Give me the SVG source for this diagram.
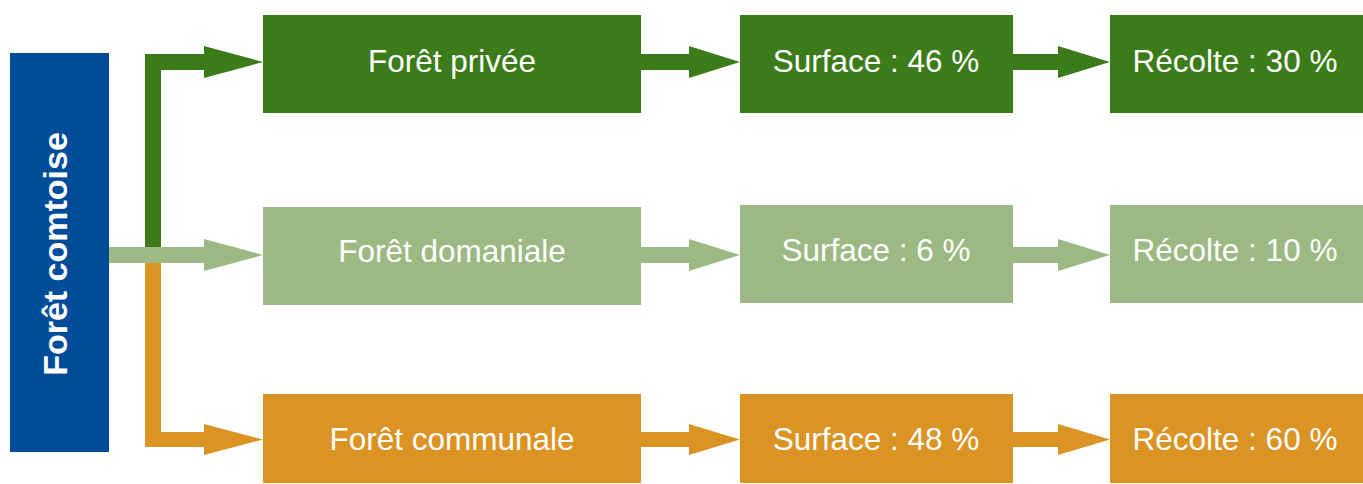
<svg xmlns="http://www.w3.org/2000/svg" width="1363" height="484" viewBox="0 0 1363 484">
<style>
.dg{fill:#3C7B19}
.lg{fill:#9CB983}
.or{fill:#DB9323}
.bl{fill:#004C99}
.t{font-family:"Liberation Sans",Arial,sans-serif;font-size:31.5px;fill:#FFFFFF;text-anchor:middle}
.tb{font-family:"Liberation Sans",Arial,sans-serif;font-size:34px;font-weight:bold;fill:#FFFFFF;text-anchor:middle}
</style>
<rect width="1363" height="484" fill="#FFFFFF"/>
<g id="connectors">
<polygon class="dg" points="145,247 145,54 204,54 204,46 263,62 204,78 204,70 161,70 161,247"/>
<polygon class="or" points="145,263 161,263 161,432 204,432 204,424 263,439.5 204,455 204,447 145,447"/>
<polygon class="lg" points="109,247 204,247 204,239 263,255 204,271 204,263 109,263"/>
<polygon class="dg" points="641,54 689,54 689,46 740,62 689,78 689,70 641,70"/>
<polygon class="dg" points="1013,54 1058,54 1058,46 1110,62 1058,78 1058,70 1013,70"/>
<polygon class="lg" points="641,247 689,247 689,239 740,255 689,271 689,263 641,263"/>
<polygon class="lg" points="1013,247 1058,247 1058,239 1110,255 1058,271 1058,263 1013,263"/>
<polygon class="or" points="641,432 689,432 689,424 740,439.5 689,455 689,447 641,447"/>
<polygon class="or" points="1013,432 1058,432 1058,424 1110,439.5 1058,455 1058,447 1013,447"/>
</g>
<g id="foret-comtoise">
<rect class="bl" x="10" y="53" width="99" height="399"/>
<text class="tb" transform="translate(67,254) rotate(-90)">Forêt comtoise</text>
</g>
<g id="foret-privee">
<rect class="dg" x="263" y="15" width="378" height="98"/>
<text class="t" x="452" y="72">Forêt privée</text>
</g>
<g id="surface-privee">
<rect class="dg" x="740" y="15" width="273" height="98"/>
<text class="t" x="876" y="72">Surface : 46 %</text>
</g>
<g id="recolte-privee">
<rect class="dg" x="1110" y="15" width="253" height="98"/>
<text class="t" x="1235" y="72">Récolte : 30 %</text>
</g>
<g id="foret-domaniale">
<rect class="lg" x="263" y="207" width="378" height="98"/>
<text class="t" x="452" y="262">Forêt domaniale</text>
</g>
<g id="surface-domaniale">
<rect class="lg" x="740" y="205" width="273" height="98"/>
<text class="t" x="876" y="261">Surface : 6 %</text>
</g>
<g id="recolte-domaniale">
<rect class="lg" x="1110" y="205" width="253" height="98"/>
<text class="t" x="1235" y="261">Récolte : 10 %</text>
</g>
<g id="foret-communale">
<rect class="or" x="263" y="394" width="378" height="89"/>
<text class="t" x="452" y="450">Forêt communale</text>
</g>
<g id="surface-communale">
<rect class="or" x="740" y="394" width="273" height="89"/>
<text class="t" x="876" y="450">Surface : 48 %</text>
</g>
<g id="recolte-communale">
<rect class="or" x="1110" y="394" width="253" height="89"/>
<text class="t" x="1235" y="450">Récolte : 60 %</text>
</g>
</svg>
